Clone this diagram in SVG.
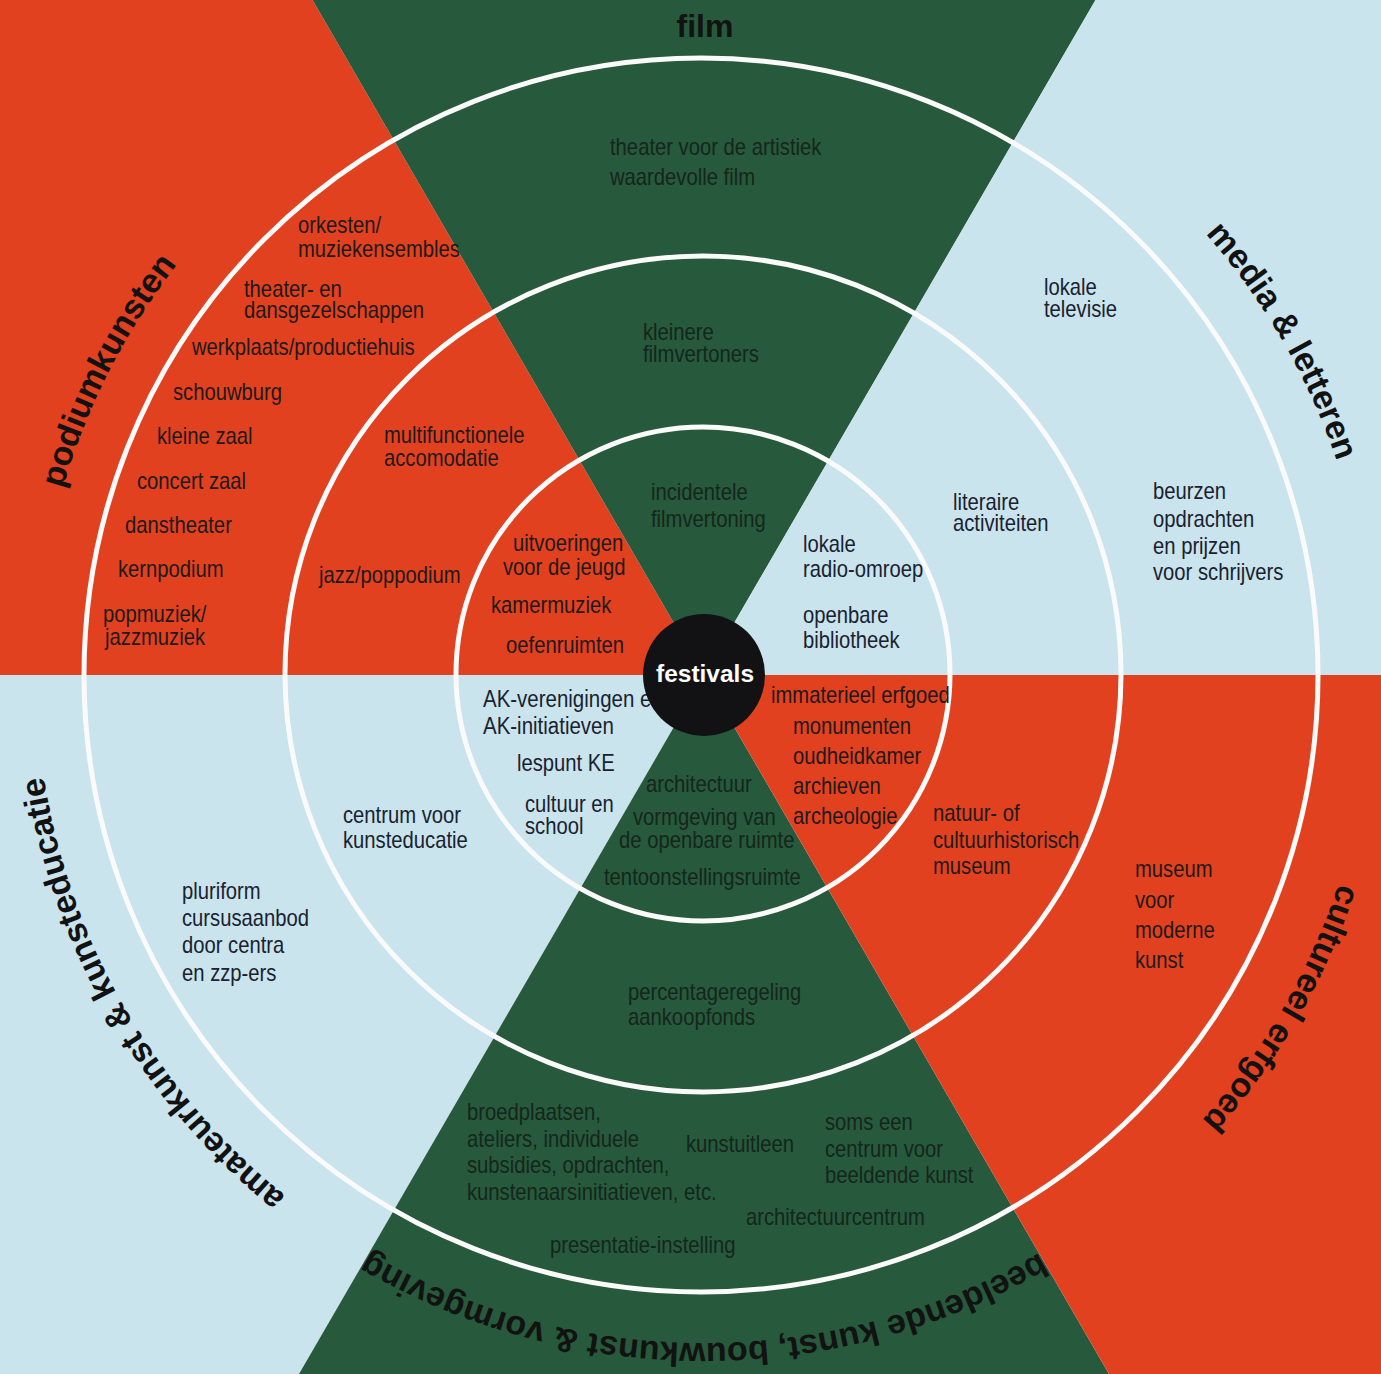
<svg xmlns="http://www.w3.org/2000/svg" width="1381" height="1374" viewBox="0 0 1381 1374">
<style>
.t text{font-family:"Liberation Sans",Arial,sans-serif;font-size:23px;fill:#1d1a1a}
.b text{fill:#1a2130}
.g text{fill:#15261b}
.h{font-family:"Liberation Sans",Arial,sans-serif;font-weight:bold;font-size:34px;fill:#121212}
.ring{fill:none;stroke:#fafafa;stroke-width:5}
.red{fill:#e2411f}.grn{fill:#27593c}.blu{fill:#c9e4ed}
</style>
<defs>
<path id="titleRing" d="M 704,7 A 668,668 0 1,1 704,1343 A 668,668 0 1,1 704,7"/>
</defs>
<g id="sectors">
<polygon class="red" points="704,675 312.5,0 0,0 0,675"/>
<polygon class="grn" points="704,675 312.5,0 1095.5,0"/>
<polygon class="blu" points="704,675 1095.5,0 1381,0 1381,675"/>
<polygon class="blu" points="704,675 0,675 0,1374 299,1374"/>
<polygon class="grn" points="704,675 299,1374 1109,1374"/>
<polygon class="red" points="704,675 1381,675 1381,1374 1109,1374"/>
</g>
<g id="rings">
<circle class="ring" cx="701" cy="675" r="617"/>
<circle class="ring" cx="703" cy="674" r="418"/>
<circle class="ring" cx="703" cy="674" r="247"/>
</g>
<g id="titles" class="h">
<text x="705" y="37" text-anchor="middle" font-size="32">film</text>
<text><textPath href="#titleRing" startOffset="699.5" text-anchor="middle">media &amp; letteren</textPath></text>
<text><textPath href="#titleRing" startOffset="1399" text-anchor="middle">cultureel erfgoed</textPath></text>
<text><textPath href="#titleRing" startOffset="2098.6" text-anchor="middle">beeldende kunst, bouwkunst &amp; vormgeving</textPath></text>
<text><textPath href="#titleRing" startOffset="2798" text-anchor="middle">amateurkunst &amp; kunsteducatie</textPath></text>
<text><textPath href="#titleRing" startOffset="3463" text-anchor="middle">podiumkunsten</textPath></text>
</g>
<g id="podiumkunsten" class="t">
<text transform="translate(298 233) scale(.88 1)"><tspan x="0" y="0">orkesten/</tspan><tspan x="0" y="24">muziekensembles</tspan></text>
<text transform="translate(244 297) scale(.88 1)"><tspan x="0" y="0">theater- en</tspan><tspan x="0" y="21">dansgezelschappen</tspan></text>
<text transform="translate(192 355) scale(.88 1)">werkplaats/productiehuis</text>
<text transform="translate(173 400) scale(.88 1)">schouwburg</text>
<text transform="translate(157 444) scale(.88 1)">kleine zaal</text>
<text transform="translate(137 489) scale(.88 1)">concert zaal</text>
<text transform="translate(125 533) scale(.88 1)">danstheater</text>
<text transform="translate(118 577) scale(.88 1)">kernpodium</text>
<text transform="translate(103 622) scale(.88 1)"><tspan x="0" y="0">popmuziek/</tspan><tspan x="2.3" y="23">jazzmuziek</tspan></text>
<text transform="translate(384 443) scale(.88 1)"><tspan x="0" y="0">multifunctionele</tspan><tspan x="0" y="23">accomodatie</tspan></text>
<text transform="translate(319 583) scale(.88 1)">jazz/poppodium</text>
<text transform="translate(513 551) scale(.88 1)"><tspan x="0" y="0">uitvoeringen</tspan><tspan x="-11.4" y="24">voor de jeugd</tspan></text>
<text transform="translate(491 613) scale(.88 1)">kamermuziek</text>
<text transform="translate(506 653) scale(.88 1)">oefenruimten</text>
</g>
<g id="film" class="t g">
<text transform="translate(610 155) scale(.88 1)"><tspan x="0" y="0">theater voor de artistiek</tspan><tspan x="0" y="30">waardevolle film</tspan></text>
<text transform="translate(643 340) scale(.88 1)"><tspan x="0" y="0">kleinere</tspan><tspan x="0" y="22">filmvertoners</tspan></text>
<text transform="translate(651 500) scale(.88 1)"><tspan x="0" y="0">incidentele</tspan><tspan x="0" y="27">filmvertoning</tspan></text>
</g>
<g id="media-letteren" class="t b">
<text transform="translate(1044 295) scale(.88 1)"><tspan x="0" y="0">lokale</tspan><tspan x="0" y="22">televisie</tspan></text>
<text transform="translate(953 510) scale(.88 1)"><tspan x="0" y="0">literaire</tspan><tspan x="0" y="21">activiteiten</tspan></text>
<text transform="translate(1153 499) scale(.88 1)"><tspan x="0" y="0">beurzen</tspan><tspan x="0" y="28">opdrachten</tspan><tspan x="0" y="55">en prijzen</tspan><tspan x="0" y="81">voor schrijvers</tspan></text>
<text transform="translate(803 552) scale(.88 1)"><tspan x="0" y="0">lokale</tspan><tspan x="0" y="25">radio-omroep</tspan></text>
<text transform="translate(803 623) scale(.88 1)"><tspan x="0" y="0">openbare</tspan><tspan x="0" y="25">bibliotheek</tspan></text>
</g>
<g id="amateurkunst" class="t b">
<text transform="translate(483 707) scale(.89 1)"><tspan x="0" y="0">AK-verenigingen en</tspan><tspan x="0" y="27">AK-initiatieven</tspan></text>
<text transform="translate(517 771) scale(.88 1)">lespunt KE</text>
<text transform="translate(525 812) scale(.88 1)"><tspan x="0" y="0">cultuur en</tspan><tspan x="0" y="22">school</tspan></text>
<text transform="translate(343 823) scale(.88 1)"><tspan x="0" y="0">centrum voor</tspan><tspan x="0" y="25">kunsteducatie</tspan></text>
<text transform="translate(182 899) scale(.88 1)"><tspan x="0" y="0">pluriform</tspan><tspan x="0" y="27">cursusaanbod</tspan><tspan x="0" y="54">door centra</tspan><tspan x="0" y="82">en zzp-ers</tspan></text>
</g>
<g id="beeldende-kunst" class="t g">
<text transform="translate(646 792) scale(.88 1)">architectuur</text>
<text transform="translate(633 825) scale(.88 1)"><tspan x="0" y="0">vormgeving van</tspan><tspan x="-15.9" y="23">de openbare ruimte</tspan></text>
<text transform="translate(604 885) scale(.88 1)">tentoonstellingsruimte</text>
<text transform="translate(628 1000) scale(.88 1)"><tspan x="0" y="0">percentageregeling</tspan><tspan x="0" y="25">aankoopfonds</tspan></text>
<text transform="translate(467 1120) scale(.88 1)"><tspan x="0" y="0">broedplaatsen,</tspan><tspan x="0" y="27">ateliers, individuele</tspan><tspan x="0" y="53">subsidies, opdrachten,</tspan><tspan x="0" y="80">kunstenaarsinitiatieven, etc.</tspan></text>
<text transform="translate(686 1152) scale(.88 1)">kunstuitleen</text>
<text transform="translate(825 1130) scale(.88 1)"><tspan x="0" y="0">soms een</tspan><tspan x="0" y="27">centrum voor</tspan><tspan x="0" y="53">beeldende kunst</tspan></text>
<text transform="translate(746 1225) scale(.88 1)">architectuurcentrum</text>
<text transform="translate(550 1253) scale(.88 1)">presentatie-instelling</text>
</g>
<g id="cultureel-erfgoed" class="t">
<text transform="translate(771 703) scale(.88 1)">immaterieel erfgoed</text>
<text transform="translate(793 734) scale(.88 1)">monumenten</text>
<text transform="translate(793 764) scale(.88 1)">oudheidkamer</text>
<text transform="translate(793 794) scale(.88 1)">archieven</text>
<text transform="translate(793 824) scale(.88 1)">archeologie</text>
<text transform="translate(933 821) scale(.88 1)"><tspan x="0" y="0">natuur- of</tspan><tspan x="0" y="27">cultuurhistorisch</tspan><tspan x="0" y="53">museum</tspan></text>
<text transform="translate(1135 877) scale(.88 1)"><tspan x="0" y="0">museum</tspan><tspan x="0" y="31">voor</tspan><tspan x="0" y="61">moderne</tspan><tspan x="0" y="91">kunst</tspan></text>
</g>
<g id="festivals">
<circle cx="704" cy="675" r="61" fill="#121214"/>
<text x="705" y="682" text-anchor="middle" font-family="Liberation Sans, Arial, sans-serif" font-weight="bold" font-size="24.5" fill="#ffffff">festivals</text>
</g>
</svg>
